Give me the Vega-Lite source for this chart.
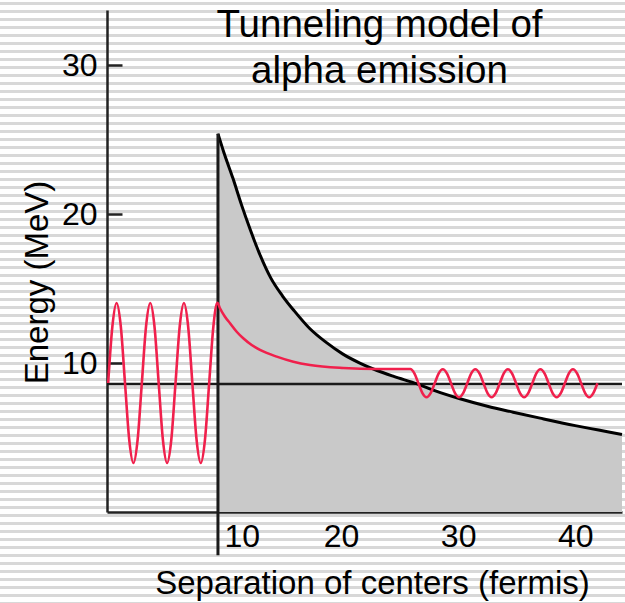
{
"$schema": "https://vega.github.io/schema/vega-lite/v6.json",
"width": 625, "height": 603, "padding": 0, "autosize": {"type": "none"},
"background": "#ffffff",
"view": {"stroke": null, "fill": {"gradient": "linear", "x1": 0, "y1": 0, "x2": 0, "y2": 1, "stops": [
{"offset":0,"color":"#fff"},
{"offset":0.0038,"color":"#fff"},{"offset":0.0038,"color":"#d8d8d8"},{"offset":0.0076,"color":"#d8d8d8"},{"offset":0.0076,"color":"#fff"},
{"offset":0.0171,"color":"#fff"},{"offset":0.0171,"color":"#d8d8d8"},{"offset":0.0209,"color":"#d8d8d8"},{"offset":0.0209,"color":"#fff"},
{"offset":0.0303,"color":"#fff"},{"offset":0.0303,"color":"#d8d8d8"},{"offset":0.0342,"color":"#d8d8d8"},{"offset":0.0342,"color":"#fff"},
{"offset":0.0436,"color":"#fff"},{"offset":0.0436,"color":"#d8d8d8"},{"offset":0.0474,"color":"#d8d8d8"},{"offset":0.0474,"color":"#fff"},
{"offset":0.0569,"color":"#fff"},{"offset":0.0569,"color":"#d8d8d8"},{"offset":0.0607,"color":"#d8d8d8"},{"offset":0.0607,"color":"#fff"},
{"offset":0.0702,"color":"#fff"},{"offset":0.0702,"color":"#d8d8d8"},{"offset":0.0740,"color":"#d8d8d8"},{"offset":0.0740,"color":"#fff"},
{"offset":0.0834,"color":"#fff"},{"offset":0.0834,"color":"#d8d8d8"},{"offset":0.0872,"color":"#d8d8d8"},{"offset":0.0872,"color":"#fff"},
{"offset":0.0967,"color":"#fff"},{"offset":0.0967,"color":"#d8d8d8"},{"offset":0.1005,"color":"#d8d8d8"},{"offset":0.1005,"color":"#fff"},
{"offset":0.1100,"color":"#fff"},{"offset":0.1100,"color":"#d8d8d8"},{"offset":0.1138,"color":"#d8d8d8"},{"offset":0.1138,"color":"#fff"},
{"offset":0.1232,"color":"#fff"},{"offset":0.1232,"color":"#d8d8d8"},{"offset":0.1270,"color":"#d8d8d8"},{"offset":0.1270,"color":"#fff"},
{"offset":0.1365,"color":"#fff"},{"offset":0.1365,"color":"#d8d8d8"},{"offset":0.1403,"color":"#d8d8d8"},{"offset":0.1403,"color":"#fff"},
{"offset":0.1498,"color":"#fff"},{"offset":0.1498,"color":"#d8d8d8"},{"offset":0.1536,"color":"#d8d8d8"},{"offset":0.1536,"color":"#fff"},
{"offset":0.1630,"color":"#fff"},{"offset":0.1630,"color":"#d8d8d8"},{"offset":0.1668,"color":"#d8d8d8"},{"offset":0.1668,"color":"#fff"},
{"offset":0.1763,"color":"#fff"},{"offset":0.1763,"color":"#d8d8d8"},{"offset":0.1801,"color":"#d8d8d8"},{"offset":0.1801,"color":"#fff"},
{"offset":0.1896,"color":"#fff"},{"offset":0.1896,"color":"#d8d8d8"},{"offset":0.1934,"color":"#d8d8d8"},{"offset":0.1934,"color":"#fff"},
{"offset":0.2028,"color":"#fff"},{"offset":0.2028,"color":"#d8d8d8"},{"offset":0.2066,"color":"#d8d8d8"},{"offset":0.2066,"color":"#fff"},
{"offset":0.2161,"color":"#fff"},{"offset":0.2161,"color":"#d8d8d8"},{"offset":0.2199,"color":"#d8d8d8"},{"offset":0.2199,"color":"#fff"},
{"offset":0.2294,"color":"#fff"},{"offset":0.2294,"color":"#d8d8d8"},{"offset":0.2332,"color":"#d8d8d8"},{"offset":0.2332,"color":"#fff"},
{"offset":0.2426,"color":"#fff"},{"offset":0.2426,"color":"#d8d8d8"},{"offset":0.2464,"color":"#d8d8d8"},{"offset":0.2464,"color":"#fff"},
{"offset":0.2559,"color":"#fff"},{"offset":0.2559,"color":"#d8d8d8"},{"offset":0.2597,"color":"#d8d8d8"},{"offset":0.2597,"color":"#fff"},
{"offset":0.2692,"color":"#fff"},{"offset":0.2692,"color":"#d8d8d8"},{"offset":0.2730,"color":"#d8d8d8"},{"offset":0.2730,"color":"#fff"},
{"offset":0.2824,"color":"#fff"},{"offset":0.2824,"color":"#d8d8d8"},{"offset":0.2862,"color":"#d8d8d8"},{"offset":0.2862,"color":"#fff"},
{"offset":0.2957,"color":"#fff"},{"offset":0.2957,"color":"#d8d8d8"},{"offset":0.2995,"color":"#d8d8d8"},{"offset":0.2995,"color":"#fff"},
{"offset":0.3090,"color":"#fff"},{"offset":0.3090,"color":"#d8d8d8"},{"offset":0.3128,"color":"#d8d8d8"},{"offset":0.3128,"color":"#fff"},
{"offset":0.3222,"color":"#fff"},{"offset":0.3222,"color":"#d8d8d8"},{"offset":0.3260,"color":"#d8d8d8"},{"offset":0.3260,"color":"#fff"},
{"offset":0.3355,"color":"#fff"},{"offset":0.3355,"color":"#d8d8d8"},{"offset":0.3393,"color":"#d8d8d8"},{"offset":0.3393,"color":"#fff"},
{"offset":0.3488,"color":"#fff"},{"offset":0.3488,"color":"#d8d8d8"},{"offset":0.3526,"color":"#d8d8d8"},{"offset":0.3526,"color":"#fff"},
{"offset":0.3620,"color":"#fff"},{"offset":0.3620,"color":"#d8d8d8"},{"offset":0.3659,"color":"#d8d8d8"},{"offset":0.3659,"color":"#fff"},
{"offset":0.3753,"color":"#fff"},{"offset":0.3753,"color":"#d8d8d8"},{"offset":0.3791,"color":"#d8d8d8"},{"offset":0.3791,"color":"#fff"},
{"offset":0.3886,"color":"#fff"},{"offset":0.3886,"color":"#d8d8d8"},{"offset":0.3924,"color":"#d8d8d8"},{"offset":0.3924,"color":"#fff"},
{"offset":0.4018,"color":"#fff"},{"offset":0.4018,"color":"#d8d8d8"},{"offset":0.4057,"color":"#d8d8d8"},{"offset":0.4057,"color":"#fff"},
{"offset":0.4151,"color":"#fff"},{"offset":0.4151,"color":"#d8d8d8"},{"offset":0.4189,"color":"#d8d8d8"},{"offset":0.4189,"color":"#fff"},
{"offset":0.4284,"color":"#fff"},{"offset":0.4284,"color":"#d8d8d8"},{"offset":0.4322,"color":"#d8d8d8"},{"offset":0.4322,"color":"#fff"},
{"offset":0.4416,"color":"#fff"},{"offset":0.4416,"color":"#d8d8d8"},{"offset":0.4454,"color":"#d8d8d8"},{"offset":0.4454,"color":"#fff"},
{"offset":0.4549,"color":"#fff"},{"offset":0.4549,"color":"#d8d8d8"},{"offset":0.4587,"color":"#d8d8d8"},{"offset":0.4587,"color":"#fff"},
{"offset":0.4682,"color":"#fff"},{"offset":0.4682,"color":"#d8d8d8"},{"offset":0.4720,"color":"#d8d8d8"},{"offset":0.4720,"color":"#fff"},
{"offset":0.4814,"color":"#fff"},{"offset":0.4814,"color":"#d8d8d8"},{"offset":0.4853,"color":"#d8d8d8"},{"offset":0.4853,"color":"#fff"},
{"offset":0.4947,"color":"#fff"},{"offset":0.4947,"color":"#d8d8d8"},{"offset":0.4985,"color":"#d8d8d8"},{"offset":0.4985,"color":"#fff"},
{"offset":0.5080,"color":"#fff"},{"offset":0.5080,"color":"#d8d8d8"},{"offset":0.5118,"color":"#d8d8d8"},{"offset":0.5118,"color":"#fff"},
{"offset":0.5212,"color":"#fff"},{"offset":0.5212,"color":"#d8d8d8"},{"offset":0.5250,"color":"#d8d8d8"},{"offset":0.5250,"color":"#fff"},
{"offset":0.5345,"color":"#fff"},{"offset":0.5345,"color":"#d8d8d8"},{"offset":0.5383,"color":"#d8d8d8"},{"offset":0.5383,"color":"#fff"},
{"offset":0.5478,"color":"#fff"},{"offset":0.5478,"color":"#d8d8d8"},{"offset":0.5516,"color":"#d8d8d8"},{"offset":0.5516,"color":"#fff"},
{"offset":0.5610,"color":"#fff"},{"offset":0.5610,"color":"#d8d8d8"},{"offset":0.5649,"color":"#d8d8d8"},{"offset":0.5649,"color":"#fff"},
{"offset":0.5743,"color":"#fff"},{"offset":0.5743,"color":"#d8d8d8"},{"offset":0.5781,"color":"#d8d8d8"},{"offset":0.5781,"color":"#fff"},
{"offset":0.5876,"color":"#fff"},{"offset":0.5876,"color":"#d8d8d8"},{"offset":0.5914,"color":"#d8d8d8"},{"offset":0.5914,"color":"#fff"},
{"offset":0.6008,"color":"#fff"},{"offset":0.6008,"color":"#d8d8d8"},{"offset":0.6046,"color":"#d8d8d8"},{"offset":0.6046,"color":"#fff"},
{"offset":0.6141,"color":"#fff"},{"offset":0.6141,"color":"#d8d8d8"},{"offset":0.6179,"color":"#d8d8d8"},{"offset":0.6179,"color":"#fff"},
{"offset":0.6274,"color":"#fff"},{"offset":0.6274,"color":"#d8d8d8"},{"offset":0.6312,"color":"#d8d8d8"},{"offset":0.6312,"color":"#fff"},
{"offset":0.6406,"color":"#fff"},{"offset":0.6406,"color":"#d8d8d8"},{"offset":0.6445,"color":"#d8d8d8"},{"offset":0.6445,"color":"#fff"},
{"offset":0.6539,"color":"#fff"},{"offset":0.6539,"color":"#d8d8d8"},{"offset":0.6577,"color":"#d8d8d8"},{"offset":0.6577,"color":"#fff"},
{"offset":0.6672,"color":"#fff"},{"offset":0.6672,"color":"#d8d8d8"},{"offset":0.6710,"color":"#d8d8d8"},{"offset":0.6710,"color":"#fff"},
{"offset":0.6804,"color":"#fff"},{"offset":0.6804,"color":"#d8d8d8"},{"offset":0.6842,"color":"#d8d8d8"},{"offset":0.6842,"color":"#fff"},
{"offset":0.6937,"color":"#fff"},{"offset":0.6937,"color":"#d8d8d8"},{"offset":0.6975,"color":"#d8d8d8"},{"offset":0.6975,"color":"#fff"},
{"offset":0.7070,"color":"#fff"},{"offset":0.7070,"color":"#d8d8d8"},{"offset":0.7108,"color":"#d8d8d8"},{"offset":0.7108,"color":"#fff"},
{"offset":0.7202,"color":"#fff"},{"offset":0.7202,"color":"#d8d8d8"},{"offset":0.7241,"color":"#d8d8d8"},{"offset":0.7241,"color":"#fff"},
{"offset":0.7335,"color":"#fff"},{"offset":0.7335,"color":"#d8d8d8"},{"offset":0.7373,"color":"#d8d8d8"},{"offset":0.7373,"color":"#fff"},
{"offset":0.7468,"color":"#fff"},{"offset":0.7468,"color":"#d8d8d8"},{"offset":0.7506,"color":"#d8d8d8"},{"offset":0.7506,"color":"#fff"},
{"offset":0.7600,"color":"#fff"},{"offset":0.7600,"color":"#d8d8d8"},{"offset":0.7638,"color":"#d8d8d8"},{"offset":0.7638,"color":"#fff"},
{"offset":0.7733,"color":"#fff"},{"offset":0.7733,"color":"#d8d8d8"},{"offset":0.7771,"color":"#d8d8d8"},{"offset":0.7771,"color":"#fff"},
{"offset":0.7866,"color":"#fff"},{"offset":0.7866,"color":"#d8d8d8"},{"offset":0.7904,"color":"#d8d8d8"},{"offset":0.7904,"color":"#fff"},
{"offset":0.7998,"color":"#fff"},{"offset":0.7998,"color":"#d8d8d8"},{"offset":0.8037,"color":"#d8d8d8"},{"offset":0.8037,"color":"#fff"},
{"offset":0.8131,"color":"#fff"},{"offset":0.8131,"color":"#d8d8d8"},{"offset":0.8169,"color":"#d8d8d8"},{"offset":0.8169,"color":"#fff"},
{"offset":0.8264,"color":"#fff"},{"offset":0.8264,"color":"#d8d8d8"},{"offset":0.8302,"color":"#d8d8d8"},{"offset":0.8302,"color":"#fff"},
{"offset":0.8396,"color":"#fff"},{"offset":0.8396,"color":"#d8d8d8"},{"offset":0.8434,"color":"#d8d8d8"},{"offset":0.8434,"color":"#fff"},
{"offset":0.8529,"color":"#fff"},{"offset":0.8529,"color":"#d8d8d8"},{"offset":0.8567,"color":"#d8d8d8"},{"offset":0.8567,"color":"#fff"},
{"offset":0.8662,"color":"#fff"},{"offset":0.8662,"color":"#d8d8d8"},{"offset":0.8700,"color":"#d8d8d8"},{"offset":0.8700,"color":"#fff"},
{"offset":0.8794,"color":"#fff"},{"offset":0.8794,"color":"#d8d8d8"},{"offset":0.8833,"color":"#d8d8d8"},{"offset":0.8833,"color":"#fff"},
{"offset":0.8927,"color":"#fff"},{"offset":0.8927,"color":"#d8d8d8"},{"offset":0.8965,"color":"#d8d8d8"},{"offset":0.8965,"color":"#fff"},
{"offset":0.9060,"color":"#fff"},{"offset":0.9060,"color":"#d8d8d8"},{"offset":0.9098,"color":"#d8d8d8"},{"offset":0.9098,"color":"#fff"},
{"offset":0.9192,"color":"#fff"},{"offset":0.9192,"color":"#d8d8d8"},{"offset":0.9230,"color":"#d8d8d8"},{"offset":0.9230,"color":"#fff"},
{"offset":0.9325,"color":"#fff"},{"offset":0.9325,"color":"#d8d8d8"},{"offset":0.9363,"color":"#d8d8d8"},{"offset":0.9363,"color":"#fff"},
{"offset":0.9458,"color":"#fff"},{"offset":0.9458,"color":"#d8d8d8"},{"offset":0.9496,"color":"#d8d8d8"},{"offset":0.9496,"color":"#fff"},
{"offset":0.9590,"color":"#fff"},{"offset":0.9590,"color":"#d8d8d8"},{"offset":0.9629,"color":"#d8d8d8"},{"offset":0.9629,"color":"#fff"},
{"offset":0.9723,"color":"#fff"},{"offset":0.9723,"color":"#d8d8d8"},{"offset":0.9761,"color":"#d8d8d8"},{"offset":0.9761,"color":"#fff"},
{"offset":0.9856,"color":"#fff"},{"offset":0.9856,"color":"#d8d8d8"},{"offset":0.9894,"color":"#d8d8d8"},{"offset":0.9894,"color":"#fff"},
{"offset":0.9988,"color":"#fff"},{"offset":0.9988,"color":"#d8d8d8"},{"offset":1,"color":"#d8d8d8"}
]}},
"title": {"text": ["Tunneling model of", "alpha emission"], "anchor": "middle", "frame": "group", "orient": "top", "offset": -91, "dx": 67, "baseline": "top", "fontSize": 38.5, "font": "Liberation Sans", "fontWeight": "normal", "color": "#000000", "lineHeight": 46},
"datasets": {
"coulomb": [{"r":9.48,"V":25.4},{"r":10,"V":24.1},{"r":10.76,"V":22.4},{"r":11.5,"V":20.6},{"r":12.22,"V":19.0},{"r":13,"V":17.4},{"r":14,"V":15.7},{"r":15,"V":14.5},{"r":16,"V":13.5},{"r":17.34,"V":12.3},{"r":18.7,"V":11.4},{"r":20.16,"V":10.6},{"r":21.6,"V":10.0},{"r":23.07,"V":9.5},{"r":24.5,"V":9.1},{"r":26.5,"V":8.6},{"r":28,"V":8.15},{"r":30.16,"V":7.6},{"r":32.5,"V":7.1},{"r":34.7,"V":6.7},{"r":37,"V":6.3},{"r":40,"V":5.8},{"r":42,"V":5.5},{"r":44,"V":5.2}],
"level": [{"r0":0,"r1":44,"E":8.6}],
"wall": [{"r":9.48,"bottom":-2.9,"top":25.4}],
"wave": [
{"r":0.100,"V":8.66},{"r":0.460,"V":12.46},{"r":0.819,"V":14.03},{"r":1.179,"V":12.46},{"r":1.538,"V":8.66},{"r":1.898,"V":4.86},{"r":2.258,"V":3.29},{"r":2.617,"V":4.86},
{"r":2.977,"V":8.66},{"r":3.336,"V":12.46},{"r":3.696,"V":14.03},{"r":4.056,"V":12.46},{"r":4.415,"V":8.66},{"r":4.775,"V":4.86},{"r":5.134,"V":3.29},{"r":5.494,"V":4.86},
{"r":5.854,"V":8.66},{"r":6.213,"V":12.46},{"r":6.573,"V":14.03},{"r":6.932,"V":12.46},{"r":7.292,"V":8.66},{"r":7.652,"V":4.86},{"r":8.011,"V":3.29},{"r":8.371,"V":4.86},
{"r":8.730,"V":8.66},{"r":9.090,"V":12.46},{"r":9.430,"V":14.05},
{"r":9.65,"V":13.68},{"r":10.08,"V":13.11},{"r":10.51,"V":12.67},{"r":11.08,"V":12.10},{"r":11.64,"V":11.66},{"r":12.36,"V":11.21},{"r":13.07,"V":10.88},{"r":14.5,"V":10.43},{"r":15.92,"V":10.09},{"r":17.34,"V":9.87},{"r":20.19,"V":9.67},{"r":23.04,"V":9.6},
{"r":25.91,"V":9.6},{"r":26.26,"V":9.31},{"r":26.61,"V":8.64},{"r":26.95,"V":7.98},{"r":27.30,"V":7.70},{"r":27.65,"V":7.98},{"r":28.00,"V":8.64},{"r":28.34,"V":9.31},
{"r":28.69,"V":9.58},{"r":29.04,"V":9.31},{"r":29.39,"V":8.64},{"r":29.73,"V":7.98},{"r":30.08,"V":7.70},{"r":30.43,"V":7.98},{"r":30.78,"V":8.64},{"r":31.12,"V":9.31},
{"r":31.47,"V":9.58},{"r":31.82,"V":9.31},{"r":32.17,"V":8.64},{"r":32.51,"V":7.98},{"r":32.86,"V":7.70},{"r":33.21,"V":7.98},{"r":33.56,"V":8.64},{"r":33.90,"V":9.31},
{"r":34.25,"V":9.58},{"r":34.60,"V":9.31},{"r":34.95,"V":8.64},{"r":35.29,"V":7.98},{"r":35.64,"V":7.70},{"r":35.99,"V":7.98},{"r":36.34,"V":8.64},{"r":36.68,"V":9.31},
{"r":37.03,"V":9.58},{"r":37.38,"V":9.31},{"r":37.73,"V":8.64},{"r":38.07,"V":7.98},{"r":38.42,"V":7.70},{"r":38.77,"V":7.98},{"r":39.12,"V":8.64},{"r":39.46,"V":9.31},
{"r":39.81,"V":9.58},{"r":40.16,"V":9.31},{"r":40.51,"V":8.64},{"r":40.85,"V":7.98},{"r":41.20,"V":7.70},{"r":41.55,"V":7.98},{"r":41.90,"V":8.64}
]
},
"layer": [
{"data": {"name": "coulomb"}, "mark": {"type": "area", "fill": "#c9c9c9", "interpolate": "monotone"},
 "encoding": {
  "x": {"field": "r", "type": "quantitative", "scale": {"domain": [0, 44], "range": [107, 622]}, "title": "Separation of centers (fermis)",
        "axis": {"values": [10, 20, 30, 40], "labelAlign": {"condition": {"test": "datum.value == 10", "value": "left"}, "value": "center"}}},
  "y": {"field": "V", "type": "quantitative", "scale": {"domain": [0, 33.7], "range": [512, 10]}, "title": "Energy (MeV)", "axis": {"values": [10, 20, 30]}},
  "y2": {"datum": 0}}},
{"data": {"name": "level"}, "mark": {"type": "rule", "stroke": "#1a1a1a", "strokeWidth": 2.5},
 "encoding": {
  "x": {"field": "r0", "type": "quantitative", "scale": {"domain": [0, 44], "range": [107, 622]}, "title": "Separation of centers (fermis)"},
  "x2": {"field": "r1"},
  "y": {"field": "E", "type": "quantitative", "scale": {"domain": [0, 33.7], "range": [512, 10]}, "title": "Energy (MeV)"}}},
{"data": {"name": "coulomb"}, "mark": {"type": "line", "stroke": "#000000", "strokeWidth": 3, "interpolate": "monotone"},
 "encoding": {
  "x": {"field": "r", "type": "quantitative", "scale": {"domain": [0, 44], "range": [107, 622]}, "title": "Separation of centers (fermis)"},
  "y": {"field": "V", "type": "quantitative", "scale": {"domain": [0, 33.7], "range": [512, 10]}, "title": "Energy (MeV)"}}},
{"data": {"name": "wall"}, "mark": {"type": "rule", "stroke": "#1a1a1a", "strokeWidth": 3},
 "encoding": {
  "x": {"field": "r", "type": "quantitative", "scale": {"domain": [0, 44], "range": [107, 622]}, "title": "Separation of centers (fermis)"},
  "y": {"field": "bottom", "type": "quantitative", "scale": {"domain": [0, 33.7], "range": [512, 10]}, "title": "Energy (MeV)"},
  "y2": {"field": "top"}}},
{"data": {"name": "wave"}, "mark": {"type": "line", "stroke": "#f0204c", "strokeWidth": 2.6, "interpolate": "monotone"},
 "encoding": {
  "x": {"field": "r", "type": "quantitative", "scale": {"domain": [0, 44], "range": [107, 622]}, "title": "Separation of centers (fermis)"},
  "y": {"field": "V", "type": "quantitative", "scale": {"domain": [0, 33.7], "range": [512, 10]}, "title": "Energy (MeV)"}}}
],
"config": {
 "font": "Liberation Sans",
 "axis": {"grid": false, "labelFont": "Liberation Sans", "titleFont": "Liberation Sans", "labelColor": "#000000", "titleColor": "#000000", "titleFontWeight": "normal", "domainColor": "#222222", "domainWidth": 2.5, "tickColor": "#222222", "tickWidth": 2.5, "tickSize": -15, "labelFontSize": 32, "titleFontSize": 33},
 "axisX": {"offset": -91, "labelPadding": 24, "titleX": 372, "titleY": 81, "titleBaseline": "alphabetic", "titleAlign": "center"},
 "axisY": {"offset": -107, "labelPadding": 25, "titleX": -60, "titleY": 282, "titleBaseline": "alphabetic", "titleAlign": "center", "titleAngle": -90}
}
}
